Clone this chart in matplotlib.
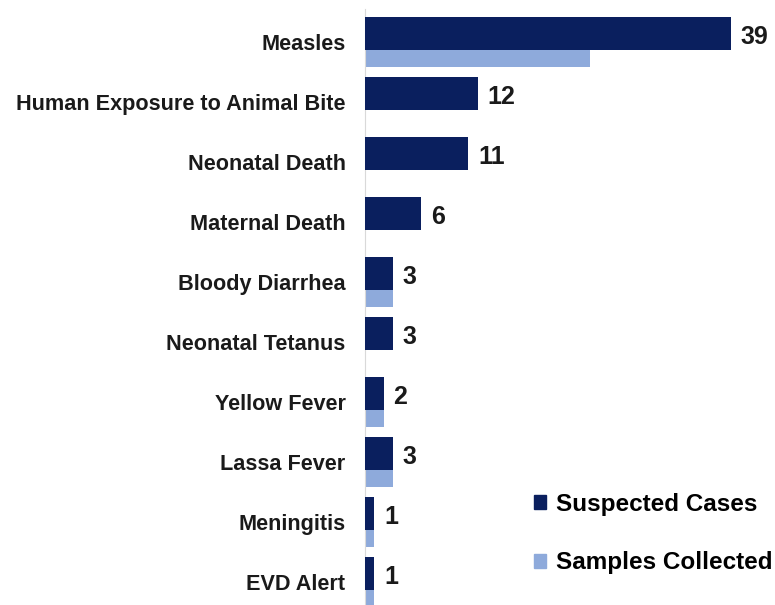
import matplotlib
matplotlib.use("Agg")
import matplotlib.pyplot as plt
from matplotlib.patches import Patch

categories = ["Measles", "Human Exposure to Animal Bite", "Neonatal Death",
              "Maternal Death", "Bloody Diarrhea", "Neonatal Tetanus",
              "Yellow Fever", "Lassa Fever", "Meningitis", "EVD Alert"]
suspected = [39, 12, 11, 6, 3, 3, 2, 3, 1, 1]
samples = [24, 0, 0, 0, 3, 0, 2, 3, 1, 1]

dark = "#0a1f5e"
light = "#8eaadb"

plt.rcParams['font.family'] = ['Liberation Sans', 'DejaVu Sans']
fig = plt.figure(figsize=(7.75, 6.05), dpi=100)
ax = fig.add_axes([365/775, -10/605, 400/775, 606/605])

ys = list(range(len(categories)))
h = 0.55
off = 0.145
ax.barh([y + off for y in ys], samples, height=h, color=light, zorder=2)
ax.barh([y - off for y in ys], suspected, height=h, color=dark, zorder=3)

for y, v in zip(ys, suspected):
    ax.annotate(str(v), xy=(v, y - off), xytext=(7, -3), textcoords='offset points',
                ha='left', va='center', fontsize=18, fontweight='bold', color='#1a1a1a')

ax.set_xlim(0, 42.6)
ax.set_ylim(9.55, -0.55)
ax.set_yticks(ys)
ax.set_yticklabels(categories, fontsize=15.6, fontweight='bold', color='#1a1a1a')
ax.tick_params(axis='y', length=0, pad=14)
ax.set_xticks([])
for s in ['top', 'right', 'bottom']:
    ax.spines[s].set_visible(False)
ax.spines['left'].set_color('#d9d9d9')
ax.spines['left'].set_linewidth(0.8)

handles = [Patch(color=dark, label="Suspected Cases"),
           Patch(color=light, label="Samples Collected")]
fig.legend(handles=handles, loc='upper left', bbox_to_anchor=(534/775, 1 - 493/605),
           frameon=False, prop={'weight': 'bold', 'size': 17.5},
           handlelength=0.5, handleheight=0.5, handletextpad=0.4,
           labelspacing=1.45, borderpad=0, borderaxespad=0)

fig.savefig("out.png", dpi=100)
